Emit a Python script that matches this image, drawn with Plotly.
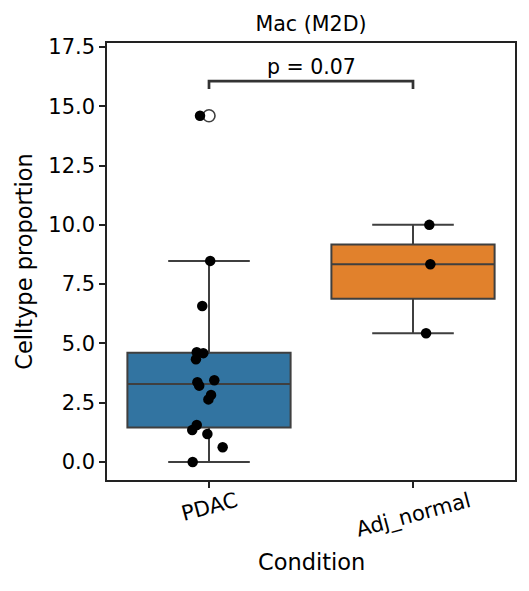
import plotly.graph_objects as go

# Data
conditions = ["PDAC", "Adj_normal"]
pdac_vals = [14.6, 8.48, 6.58, 4.63, 4.59, 4.33, 3.36, 3.22, 3.45, 2.83, 2.64, 1.56, 1.35, 1.18, 0.62, 0.0]
pdac_jitter = [-0.044, 0.006, -0.033, -0.060, -0.028, -0.064, -0.057, -0.048, 0.026, 0.010, -0.003, -0.060, -0.082, -0.008, 0.067, -0.080]
adj_vals = [10.0, 8.34, 5.43]
adj_jitter = [0.080, 0.085, 0.064]
p_text = "p = 0.07"
y_ticks = [0, 2.5, 5, 7.5, 10, 12.5, 15, 17.5]

colors = ["#3274a1", "#e1812c"]
edge = "#3f3f3f"
font = "DejaVu Sans"

fig = go.Figure()

# Boxes (seaborn-like)
for i, (vals, col) in enumerate(zip([pdac_vals, adj_vals], colors)):
    fig.add_trace(go.Box(y=vals, x0=i, width=0.8, fillcolor=col,
                         line=dict(color=edge, width=2), whiskerwidth=0.5,
                         boxpoints="outliers", pointpos=0, jitter=0,
                         quartilemethod="inclusive",
                         marker=dict(symbol="circle-open", size=12, color=edge,
                                     line=dict(width=1.6)),
                         hoverinfo="y", showlegend=False))

# Strip points
for i, (vals, jit) in enumerate(zip([pdac_vals, adj_vals], [pdac_jitter, adj_jitter])):
    fig.add_trace(go.Scatter(x=[i + j for j in jit], y=vals, mode="markers",
                             marker=dict(color="black", size=10.5),
                             showlegend=False, hoverinfo="y"))

# Significance bracket
fig.add_trace(go.Scatter(x=[0, 0, 1, 1], y=[15.73, 16.06, 16.06, 15.73], mode="lines",
                         line=dict(color="#333333", width=2.7), showlegend=False,
                         hoverinfo="skip"))
fig.add_annotation(x=0.5, y=16.06, xref="x", yref="y", text=p_text, showarrow=False,
                   yanchor="bottom", yshift=0, font=dict(size=20.5, color="black"))

# x tick labels, rotated like matplotlib
for i, lab in enumerate(conditions):
    fig.add_annotation(x=i, y=0, xref="x", yref="paper", text=lab, showarrow=False,
                       textangle=-15, yanchor="top", yshift=-6,
                       font=dict(size=21, color="black"))
fig.add_annotation(x=0.5, y=0, xref="paper", yref="paper", text="Condition",
                   showarrow=False, yanchor="middle", yshift=-82,
                   font=dict(size=22.5, color="black"))

# page body has an 8px margin, so the figure is drawn 8px in from the top-left
fig.update_layout(
    width=521, height=583,
    margin=dict(l=99, r=14, t=35, b=111),
    plot_bgcolor="white", paper_bgcolor="white",
    font=dict(family=font, color="black"),
    boxmode="overlay",
    title=dict(text="Mac (M2D)", x=0.5, xref="paper", y=1 - 16 / 583, yref="container",
               yanchor="middle", xanchor="center", font=dict(size=20.6, color="black")),
)
fig.update_xaxes(range=[-0.5, 1.5], tickvals=[0, 1], showticklabels=False,
                 ticks="outside", ticklen=6, tickwidth=1.5, tickcolor="#222222",
                 showline=True, linecolor="#222222", linewidth=1.5, mirror=True,
                 showgrid=False, zeroline=False)
fig.update_yaxes(range=[-0.76, 17.67], tickvals=y_ticks, tickformat=".1f",
                 ticks="outside", ticklen=6, tickwidth=1.5, tickcolor="#222222",
                 tickfont=dict(size=21, color="black"),
                 title=dict(text="Celltype proportion", standoff=9,
                            font=dict(size=22.5, color="black")),
                 showline=True, linecolor="#222222", linewidth=1.5, mirror=True,
                 showgrid=False, zeroline=False)

fig.write_html("out.html")
